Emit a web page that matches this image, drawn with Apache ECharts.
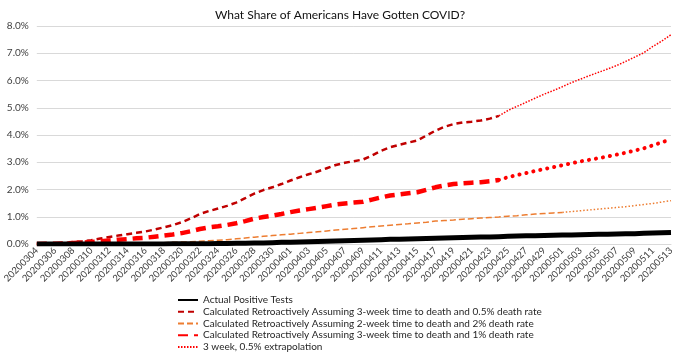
<!DOCTYPE html>
<html>
<head>
<meta charset="utf-8">
<script src="https://cdn.jsdelivr.net/npm/echarts@6/dist/echarts.min.js"></script>
<style>
  html, body { margin: 0; padding: 0; background: #fff; }
  #chart { width: 680px; height: 352px; }
</style>
</head>
<body>
<div id="chart"></div>
<script>
// dates, one per day
var dates = [
  '20200304','20200305','20200306','20200307','20200308','20200309','20200310','20200311','20200312','20200313',
  '20200314','20200315','20200316','20200317','20200318','20200319','20200320','20200321','20200322','20200323',
  '20200324','20200325','20200326','20200327','20200328','20200329','20200330','20200331','20200401','20200402',
  '20200403','20200404','20200405','20200406','20200407','20200408','20200409','20200410','20200411','20200412',
  '20200413','20200414','20200415','20200416','20200417','20200418','20200419','20200420','20200421','20200422',
  '20200423','20200424','20200425','20200426','20200427','20200428','20200429','20200430','20200501','20200502',
  '20200503','20200504','20200505','20200506','20200507','20200508','20200509','20200510','20200511','20200512',
  '20200513'
];

// percent of population
var actualTests = [
  0.00,0.00,0.00,0.00,0.00,0.00,0.00,0.00,0.00,0.00,
  0.00,0.00,0.00,0.00,0.00,0.01,0.01,0.01,0.01,0.01,
  0.02,0.02,0.03,0.03,0.04,0.04,0.05,0.06,0.06,0.07,
  0.08,0.09,0.10,0.11,0.12,0.13,0.14,0.15,0.16,0.17,
  0.17,0.18,0.19,0.20,0.21,0.22,0.23,0.24,0.25,0.26,
  0.26,0.27,0.28,0.29,0.30,0.30,0.31,0.32,0.33,0.33,
  0.34,0.35,0.36,0.36,0.37,0.38,0.38,0.39,0.40,0.41,
  0.42
];

// 3-week lag, 0.5% death rate (20200304 .. 20200424)
var threeWk05 = [
  0.00,0.01,0.02,0.04,0.07,0.10,0.14,0.20,0.26,0.31,
  0.36,0.41,0.46,0.53,0.61,0.69,0.80,0.94,1.10,1.21,
  1.30,1.40,1.52,1.68,1.85,1.98,2.08,2.20,2.33,2.45,
  2.56,2.66,2.78,2.90,2.98,3.04,3.10,3.25,3.42,3.55,
  3.64,3.72,3.80,3.98,4.16,4.30,4.40,4.46,4.49,4.53,
  4.60,4.70
];

// 2-week lag, 2% death rate (20200304 .. 20200501)
var twoWk2 = [
  0.00,0.00,0.00,0.01,0.01,0.01,0.01,0.02,0.02,0.02,
  0.03,0.03,0.04,0.04,0.05,0.06,0.07,0.08,0.10,0.12,
  0.14,0.16,0.19,0.22,0.25,0.28,0.31,0.34,0.36,0.39,
  0.42,0.45,0.48,0.51,0.54,0.57,0.60,0.63,0.66,0.69,
  0.72,0.74,0.77,0.80,0.84,0.86,0.88,0.91,0.93,0.95,
  0.97,0.99,1.02,1.04,1.07,1.10,1.12,1.14,1.16
];

// 3-week lag, 1% death rate (20200304 .. 20200424)
var threeWk1 = [
  0.00,0.01,0.01,0.02,0.04,0.05,0.07,0.10,0.13,0.16,
  0.18,0.21,0.23,0.27,0.31,0.35,0.40,0.47,0.55,0.61,
  0.65,0.70,0.76,0.84,0.93,0.99,1.04,1.10,1.17,1.23,
  1.28,1.33,1.39,1.45,1.49,1.52,1.55,1.63,1.71,1.78,
  1.82,1.86,1.90,1.99,2.08,2.15,2.20,2.23,2.25,2.27,
  2.30,2.35
];

// extrapolations (20200424 .. 20200513)
var ext05 = [
  4.70,4.90,5.05,5.20,5.35,5.50,5.63,5.77,5.92,6.05,
  6.18,6.30,6.42,6.55,6.70,6.86,7.02,7.25,7.45,7.68
];
var ext1 = [
  2.35,2.45,2.53,2.60,2.68,2.75,2.82,2.89,2.96,3.03,
  3.09,3.15,3.21,3.28,3.35,3.43,3.51,3.62,3.73,3.84
];
// (20200501 .. 20200513)
var ext2 = [
  1.16,1.19,1.22,1.25,1.28,1.31,1.34,1.37,1.41,1.45,
  1.49,1.54,1.59
];

var names = [
  'Actual Positive Tests',
  'Calculated Retroactively Assuming 3-week time to death and 0.5% death rate',
  'Calculated Retroactively Assuming 2-week time to death and 2% death rate',
  'Calculated Retroactively Assuming 3-week time to death and 1% death rate',
  '3 week, 0.5% extrapolation'
];

function from(start, arr) {
  var i0 = dates.indexOf(start);
  return arr.map(function (v, i) { return [dates[i0 + i], v]; });
}

var font = 'Lato, "DejaVu Sans", sans-serif';

var chart = echarts.init(document.getElementById('chart'), null, { renderer: 'canvas' });
chart.setOption({
  animation: false,
  textStyle: { fontFamily: font },
  title: {
    text: 'What Share of Americans Have Gotten COVID?',
    left: 'center',
    top: 4,
    textStyle: { fontFamily: font, fontSize: 12, fontWeight: 'normal', color: '#111' }
  },
  legend: {
    data: names,
    orient: 'vertical',
    left: 177,
    top: 295,
    padding: 0,
    itemGap: 1.75,
    itemWidth: 20,
    itemHeight: 10,
    itemStyle: { opacity: 0 },
    textStyle: { fontFamily: font, fontSize: 10, lineHeight: 10, color: '#262626' }
  },
  grid: { left: 31, right: 9, top: 26, bottom: 108 },
  xAxis: {
    type: 'category',
    data: dates,
    boundaryGap: false,
    axisLine: { lineStyle: { color: '#d9d9d9' } },
    axisTick: { show: false },
    axisLabel: { interval: 1, rotate: 45, fontSize: 9.5, color: '#404040', margin: 5, fontFamily: font }
  },
  yAxis: {
    type: 'value',
    min: 0,
    max: 8,
    interval: 1,
    axisLine: { show: false },
    axisTick: { show: false },
    splitLine: { lineStyle: { color: '#d9d9d9' } },
    axisLabel: {
      fontSize: 10, color: '#404040', margin: 8, fontFamily: font,
      formatter: function (v) { return v.toFixed(1) + '%'; }
    }
  },
  series: [
    {
      name: names[4], type: 'line', symbol: 'none', z: 2,
      data: from('20200424', ext05),
      lineStyle: { color: '#ff0000', width: 1.5, type: [1.5, 1.5] },
      itemStyle: { color: '#ff0000' }
    },
    {
      name: '1% extrapolation', type: 'line', symbol: 'none', z: 2,
      data: from('20200424', ext1),
      lineStyle: { color: '#ff0000', width: 4, type: [0.1, 7], cap: 'round' }
    },
    {
      name: '2% extrapolation', type: 'line', symbol: 'none', z: 2,
      data: from('20200501', ext2),
      lineStyle: { color: '#ed7d31', width: 1.5, type: [1.5, 2] }
    },
    {
      name: names[1], type: 'line', symbol: 'none', z: 3,
      data: from('20200304', threeWk05),
      lineStyle: { color: '#c00000', width: 2.5, type: [6, 4] },
      itemStyle: { color: '#c00000' }
    },
    {
      name: names[2], type: 'line', symbol: 'none', z: 3,
      data: from('20200304', twoWk2),
      lineStyle: { color: '#ed7d31', width: 1.5, type: [6, 3] },
      itemStyle: { color: '#ed7d31' }
    },
    {
      name: names[3], type: 'line', symbol: 'none', z: 3,
      data: from('20200304', threeWk1),
      lineStyle: { color: '#ff0000', width: 4.5, type: [10, 6] },
      itemStyle: { color: '#ff0000' }
    },
    {
      name: names[0], type: 'line', symbol: 'none', z: 4,
      data: actualTests,
      lineStyle: { color: '#000', width: 5 },
      itemStyle: { color: '#000' }
    }
  ]
});
</script>
</body>
</html>
